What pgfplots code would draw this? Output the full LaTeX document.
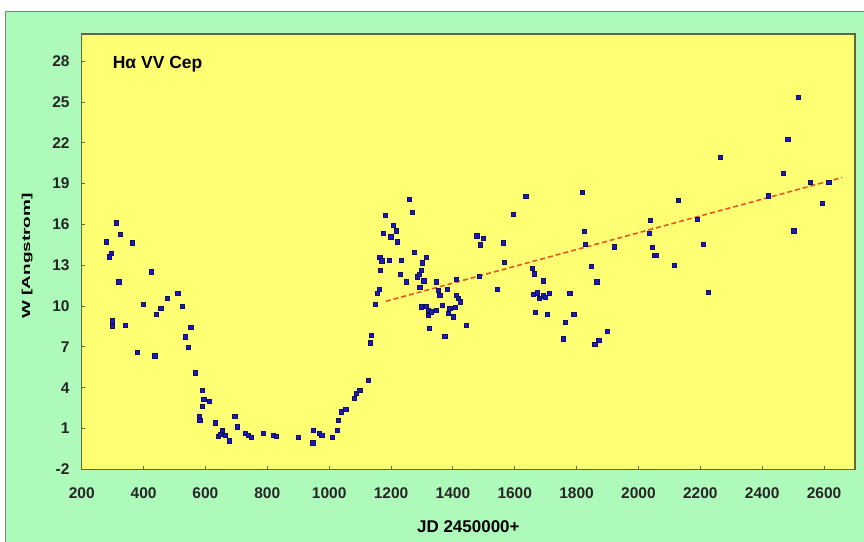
\documentclass[border=0pt]{standalone}
\usepackage{pgfplots}
\pgfplotsset{compat=1.18}
\usepackage{pgfplotstable}
\usepackage{fontspec}
\setmainfont{Liberation Sans}
\definecolor{bggreen}{RGB}{174,250,186}
\definecolor{plotyellow}{RGB}{255,255,115}
\definecolor{frameol}{RGB}{95,105,60}
\definecolor{ptfill}{RGB}{25,25,200}
\definecolor{ptedge}{RGB}{15,15,90}
\definecolor{trend}{RGB}{235,85,35}
\pgfplotstableread{
x y
279 14.72
289 13.62
296 13.9
298 8.92
300 8.53
312 16.12
320 11.78
325 15.27
341 8.6
363 14.65
379 6.6
400 10.12
425 12.52
436 6.35
440 9.39
456 9.83
476 10.56
511 10.93
526 10.0
535 7.74
544 6.94
553 8.43
568 5.1
580 1.87
582 1.62
591 3.78
591 2.65
595 3.14
612 3.02
631 1.42
641 0.4
649 0.6
655 0.84
663 0.52
677 0.1
695 1.92
703 1.13
728 0.64
739 0.52
749 0.35
787 0.64
819 0.52
830 0.4
900 0.35
947 -0.05
949 0.84
968 0.64
976 0.52
1011 0.35
1026 0.84
1029 1.62
1040 2.23
1054 2.41
1080 3.22
1087 3.58
1099 3.78
1126 4.56
1134 7.3
1137 7.87
1148 10.15
1155 10.93
1162 11.22
1164 13.58
1166 12.6
1170 13.33
1175 15.34
1181 16.7
1194 13.38
1199 15.09
1207 15.95
1218 15.53
1220 14.72
1231 12.35
1234 13.38
1250 11.79
1259 17.86
1268 16.88
1275 13.94
1285 12.15
1291 12.35
1293 11.37
1297 12.6
1299 9.95
1302 13.18
1306 11.86
1313 13.58
1315 10.0
1320 9.7
1320 9.35
1323 8.36
1331 9.58
1347 9.7
1347 11.79
1353 11.17
1358 10.8
1367 10.07
1374 7.8
1382 11.22
1385 9.46
1390 9.83
1401 9.21
1407 9.9
1412 11.96
1412 10.8
1417 10.56
1423 10.31
1444 8.6
1485 12.2
1477 15.16
1489 14.5
1499 15.0
1544 11.22
1562 14.65
1566 13.2
1595 16.74
1636 18.09
1658 12.8
1664 12.37
1661 10.84
1667 9.57
1672 10.97
1680 10.59
1691 10.76
1692 11.86
1699 10.66
1705 9.37
1712 10.92
1756 7.6
1764 8.8
1778 10.92
1791 9.39
1818 18.34
1824 15.5
1829 14.53
1848 12.95
1859 7.2
1865 11.78
1872 7.46
1899 8.17
1922 14.35
2035 15.34
2039 16.3
2045 14.32
2053 13.76
2058 13.76
2116 13.0
2130 17.76
2189 16.36
2209 14.53
2225 11.02
2264 20.93
2419 18.1
2467 19.74
2483 22.26
2502 15.54
2516 25.33
2556 19.1
2595 17.53
2615 19.1
}\vvcep
\begin{document}
\begin{tikzpicture}[x=1pt,y=1pt]
\useasboundingbox (0,0) rectangle (864,541);
\fill[white] (0,0) rectangle (864,541);
\fill[bggreen] (5,-5) rectangle (870,529.3);
\draw[gray,line width=1pt] (5,-5) -- (5,529.3) -- (870,529.3);
\begin{axis}[
  at={(81.7pt,71.7pt)}, anchor=south west,
  width=773.3pt, height=435.3pt, scale only axis,
  xmin=200, xmax=2700, ymin=-2, ymax=30,
  xtick={200,400,...,2600}, ytick={-2,1,...,28},
  axis background/.style={fill=plotyellow},
  axis line style={draw=frameol, line width=1.3pt},
  tick style={draw=frameol, line width=0.8pt},
  tick align=inside, major tick length=3pt,
  xtick pos=bottom, ytick pos=left,
  /pgf/number format/assume math mode=true,
  /pgf/number format/1000 sep={},
  ticklabel style={font=\fontsize{15.5}{18}\selectfont\bfseries, text=black!85},
  xticklabel style={anchor=center, yshift=-24pt},
  yticklabel style={anchor=east, inner sep=0pt, xshift=-12pt},
  xlabel={JD 2450000+},
  ylabel={\scalebox{1.65}[1]{W [Angstrom]}},
  xlabel style={font=\fontsize{17}{20}\selectfont\bfseries, at={(axis description cs:0.5,-0.1319)}, anchor=center},
  ylabel style={font=\fontsize{11.5}{14}\selectfont\bfseries, at={(axis description cs:-0.0704,0.49)}, anchor=center, rotate=0},
  clip=false,
]
\addplot[only marks, mark=square*, mark size=2.1pt, mark options={fill=ptfill, draw=ptedge, line width=0.6pt}] table[x=x,y=y] {\vvcep};
\addplot[trend, line width=1.6pt, dash pattern=on 5pt off 3pt] coordinates {(1183,10.35) (2658,19.45)};
\node[anchor=west, inner sep=0pt, font=\fontsize{17.5}{20}\selectfont\bfseries] at (axis cs:300,27.8) {Hα VV Cep};
\end{axis}
\end{tikzpicture}
\end{document}
